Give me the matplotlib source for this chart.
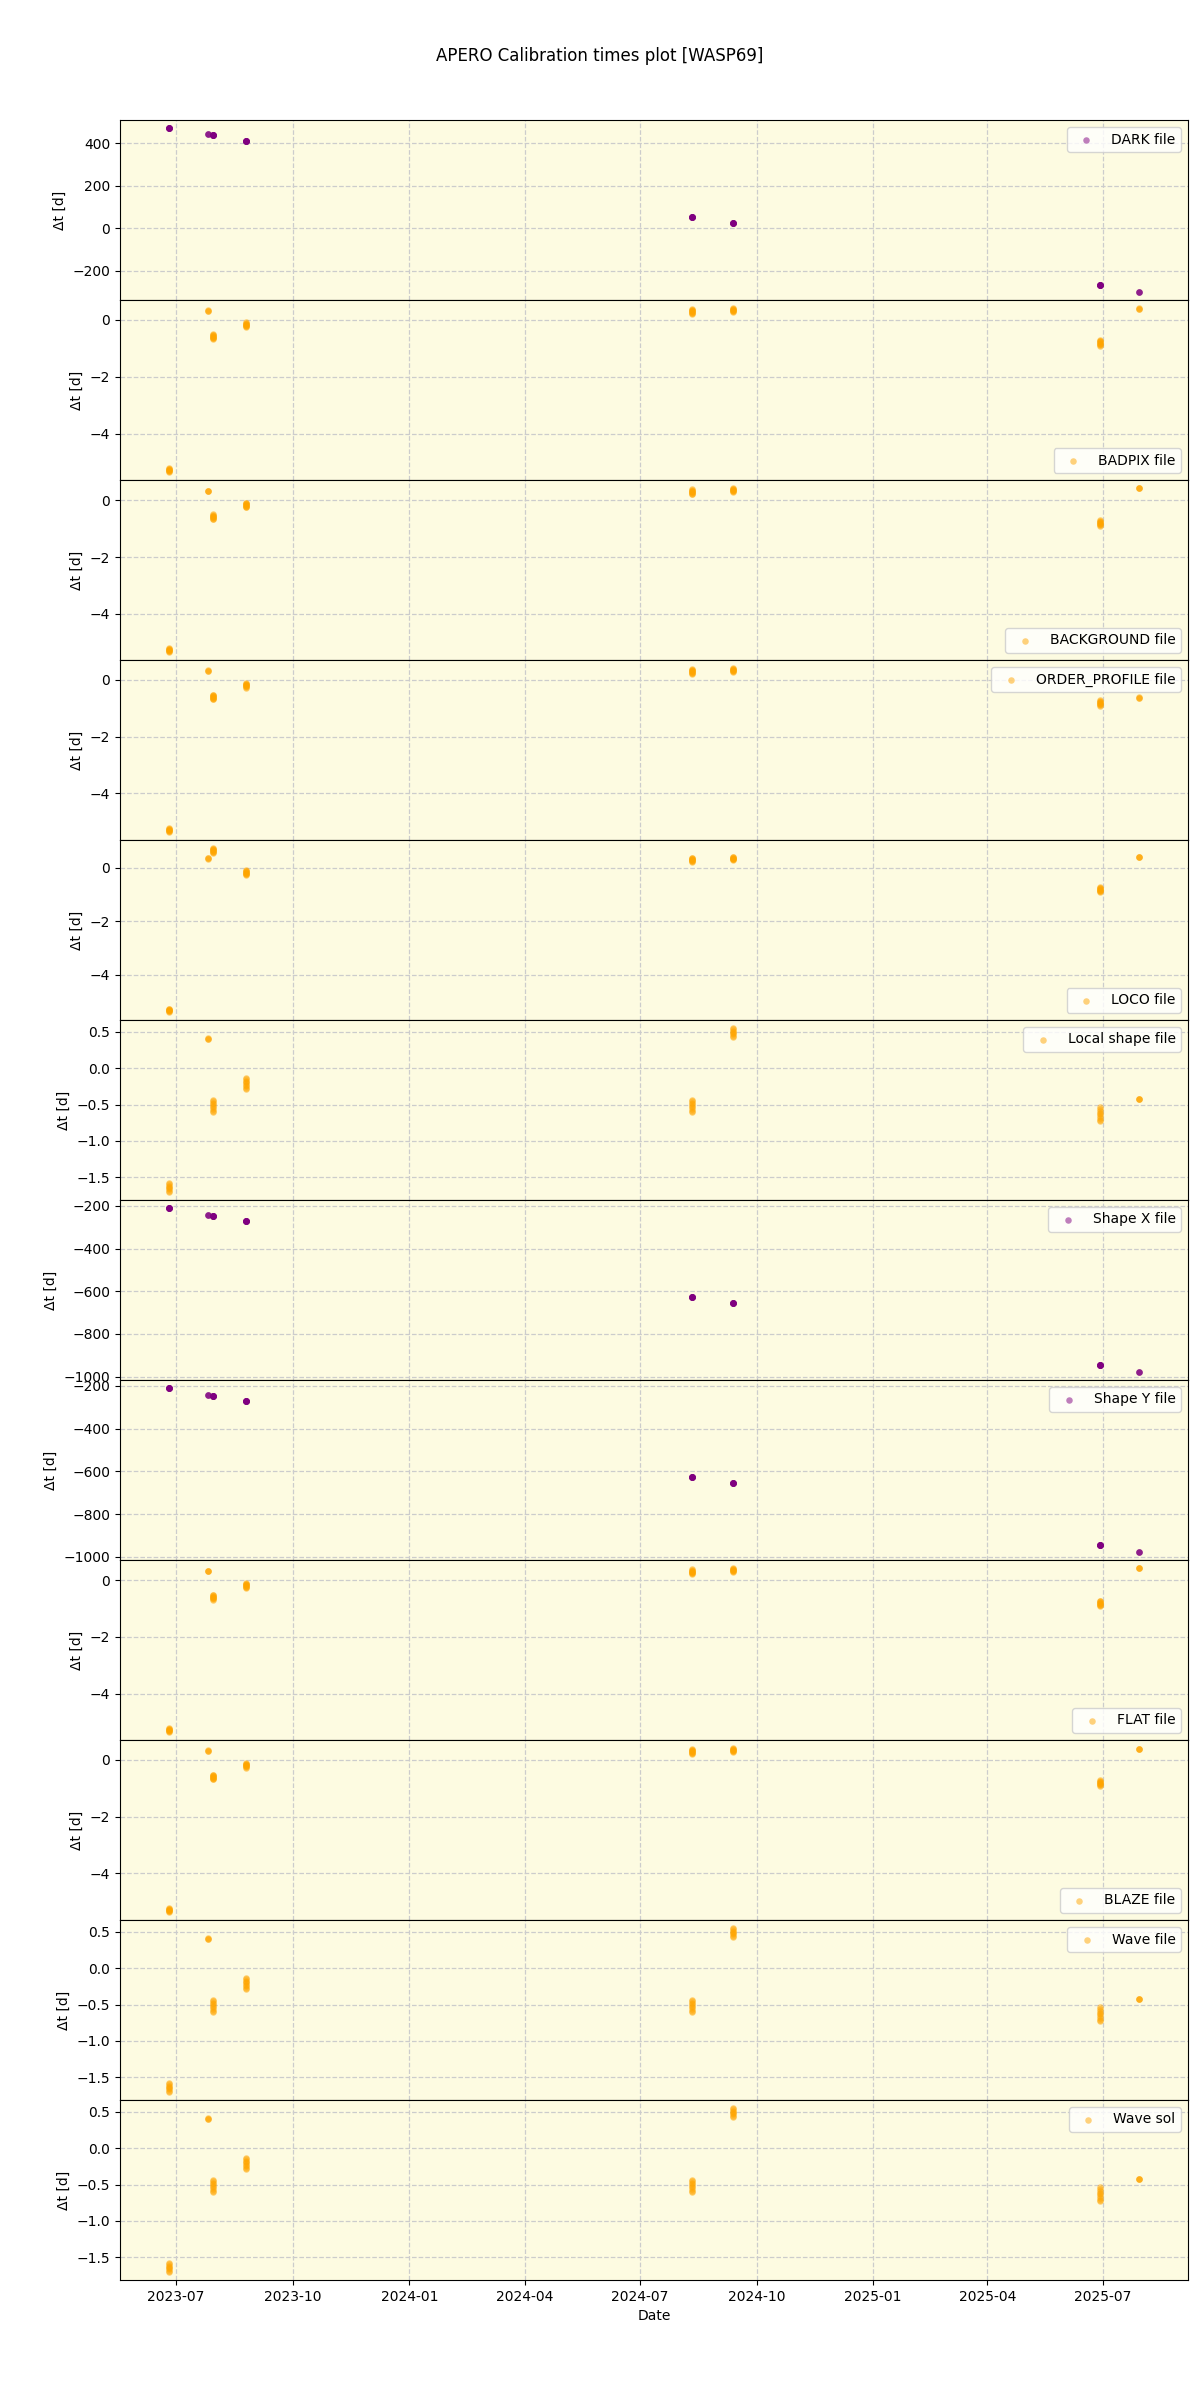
import numpy as np
import pandas as pd
import matplotlib
matplotlib.use("Agg")
import matplotlib.pyplot as plt

# ---- data -------------------------------------------------------------
# observing nights (start time of first exposure)
nights = ["2023-06-25T02:00", "2023-07-26T02:00", "2023-07-30T02:00", "2023-08-25T02:00",
          "2024-08-11T02:00", "2024-09-12T02:00", "2025-06-29T02:00", "2025-07-30T02:00"]

# exposure times within each night, days after the first exposure
exp_offsets = [
    [0.000, 0.017, 0.034, 0.051, 0.068, 0.085, 0.102, 0.120],
    [0.000, 0.004, 0.008],
    [0.000, 0.021, 0.042, 0.063, 0.084, 0.105, 0.126, 0.147, 0.165],
    [0.000, 0.020, 0.040, 0.060, 0.080, 0.100, 0.120, 0.140, 0.160],
    [0.000, 0.021, 0.042, 0.063, 0.084, 0.105, 0.126, 0.147, 0.165],
    [0.000, 0.017, 0.034, 0.051, 0.068, 0.085, 0.102, 0.120],
    [0.000, 0.024, 0.048, 0.072, 0.096, 0.120, 0.144, 0.168, 0.190],
    [0.000, 0.004, 0.008],
]

# calibration-minus-observation time (days) at the first exposure of each night
dark_dt       = [470.0, 442.0, 437.0, 412.0, 55.0, 27.0, -265.0, -298.0]
badpix_dt     = [-5.21, 0.33, -0.50, -0.09, 0.38, 0.41, -0.71, 0.40]
background_dt = [-5.21, 0.33, -0.50, -0.09, 0.38, 0.41, -0.71, 0.42]
orderprof_dt  = [-5.23, 0.33, -0.52, -0.11, 0.38, 0.41, -0.72, -0.62]
loco_dt       = [-5.27, 0.35, 0.73, -0.10, 0.38, 0.41, -0.72, 0.40]
localshape_dt = [-1.58, 0.41, -0.435, -0.13, -0.435, 0.55, -0.54, -0.42]
shapex_dt     = [-211.0, -244.0, -248.0, -273.0, -628.0, -656.0, -945.0, -978.0]
shapey_dt     = [-211.0, -244.0, -248.0, -273.0, -627.0, -655.0, -945.0, -977.0]
flat_dt       = [-5.23, 0.33, -0.52, -0.11, 0.38, 0.41, -0.72, 0.42]
blaze_dt      = [-5.23, 0.33, -0.52, -0.11, 0.38, 0.41, -0.72, 0.38]
wavefile_dt   = [-1.58, 0.41, -0.435, -0.13, -0.435, 0.55, -0.54, -0.42]
wavesol_dt    = [-1.58, 0.41, -0.435, -0.13, -0.435, 0.55, -0.54, -0.42]

labels = ["DARK file", "BADPIX file", "BACKGROUND file", "ORDER_PROFILE file", "LOCO file",
          "Local shape file", "Shape X file", "Shape Y file", "FLAT file", "BLAZE file",
          "Wave file", "Wave sol"]
series = [dark_dt, badpix_dt, background_dt, orderprof_dt, loco_dt, localshape_dt,
          shapex_dt, shapey_dt, flat_dt, blaze_dt, wavefile_dt, wavesol_dt]
colors = ["purple", "orange", "orange", "orange", "orange", "orange",
          "purple", "purple", "orange", "orange", "orange", "orange"]
legend_locs = ["upper right", "lower right", "lower right", "upper right", "lower right",
               "upper right", "upper right", "upper right", "lower right", "lower right",
               "upper right", "upper right"]

title = "APERO Calibration times plot [WASP69]"

# ---- build exposure-level arrays --------------------------------------
def expand(first_dt):
    xs, ys = [], []
    for night, offs, base in zip(nights, exp_offsets, first_dt):
        t0 = pd.Timestamp(night)
        for o in offs:
            xs.append(t0 + pd.Timedelta(days=o))
            ys.append(base - o)
    return xs, ys

# ---- plot --------------------------------------------------------------
fig, axes = plt.subplots(len(series), 1, figsize=(12, 24), dpi=100, sharex=True)
fig.subplots_adjust(left=0.1, right=0.99, top=0.95, bottom=0.05, hspace=0)

for ax, lab, vals, col, loc in zip(axes, labels, series, colors, legend_locs):
    xs, ys = expand(vals)
    ax.set_facecolor("#fdfbe1")
    ax.scatter(xs, ys, s=22, color=col, alpha=0.5, linewidths=0, label=lab, zorder=3)
    ax.grid(True, linestyle="--", color="#cccccc", linewidth=0.9)
    ax.set_axisbelow(True)
    ax.set_ylabel("Δt [d]")
    ax.legend(loc=loc)

axes[-1].set_xlabel("Date")
fig.suptitle(title, fontsize=12, y=0.9805)

fig.savefig("out.png", dpi=100)
